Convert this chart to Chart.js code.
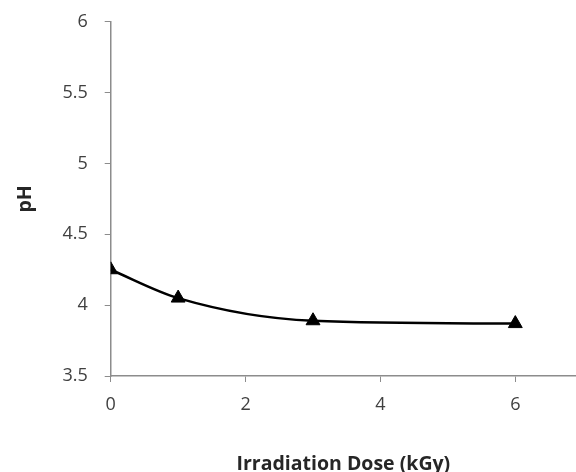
<!DOCTYPE html>
<html>
<head>
<meta charset="utf-8">
<script src="https://cdn.jsdelivr.net/npm/chart.js@4.4.1/dist/chart.umd.min.js"></script>
<style>
html,body{margin:0;padding:0;background:#fff;overflow:hidden;width:576px;height:472px;}
#wrap{width:585px;height:478px;position:absolute;left:0;top:-6px;}
</style>
</head>
<body>
<div id="wrap"><canvas id="c"></canvas></div>
<script>
const doses = [0, 1, 3, 6];
const phValues = [4.25, 4.05, 3.89, 3.87];
const xTicks = [0, 2, 4, 6];
const yTicks = [3.5, 4, 4.5, 5, 5.5, 6];
const xTitle = 'Irradiation Dose (kGy)';
const yTitle = 'pH';

const FONT = '"Open Sans", "Noto Sans", sans-serif';
const axisColor = '#8c8c8c';

new Chart(document.getElementById('c'), {
  type: 'scatter',
  data: {
    datasets: [{
      data: doses.map((d, i) => ({x: d, y: phValues[i]})),
      showLine: true,
      borderColor: '#000',
      backgroundColor: '#000',
      borderWidth: 2.5,
      cubicInterpolationMode: 'monotone',
      pointStyle: 'triangle',
      pointRadius: 8,
      pointHoverRadius: 8,
      pointBorderWidth: 1,
      pointBackgroundColor: '#000',
      pointBorderColor: '#000'
    }]
  },
  options: {
    responsive: true,
    maintainAspectRatio: false,
    animation: false,
    devicePixelRatio: 1,
    layout: {padding: {left: 14, top: 6, right: 0, bottom: -4}},
    plugins: {legend: {display: false}, tooltip: {enabled: false}},
    scales: {
      x: {
        type: 'linear',
        min: 0,
        max: 6.9,
        afterBuildTicks: (s) => { s.ticks = xTicks.map(v => ({value: v})); },
        ticks: {
          font: {family: FONT, size: 18},
          color: '#404040',
          padding: 12,
          maxRotation: 0,
          callback: (v) => String(v)
        },
        grid: {display: true, drawOnChartArea: false, drawTicks: true, tickLength: 6, color: axisColor, lineWidth: 1},
        border: {display: true, color: axisColor, width: 1.5},
        title: {display: true, text: xTitle, font: {family: FONT, size: 19.5, weight: 'bold'}, color: '#262626', padding: {top: 25, bottom: 0}}
      },
      y: {
        type: 'linear',
        min: 3.5,
        max: 6,
        afterBuildTicks: (s) => { s.ticks = yTicks.map(v => ({value: v})); },
        ticks: {
          font: {family: FONT, size: 18},
          color: '#404040',
          padding: 17,
          callback: (v) => String(v)
        },
        grid: {display: true, drawOnChartArea: false, drawTicks: true, tickLength: 6, color: axisColor, lineWidth: 1},
        border: {display: true, color: axisColor, width: 1.5},
        title: {display: true, text: yTitle, font: {family: FONT, size: 19.5, weight: 'bold'}, color: '#262626', padding: {top: 0, bottom: 8}}
      }
    }
  }
});
</script>
</body>
</html>
